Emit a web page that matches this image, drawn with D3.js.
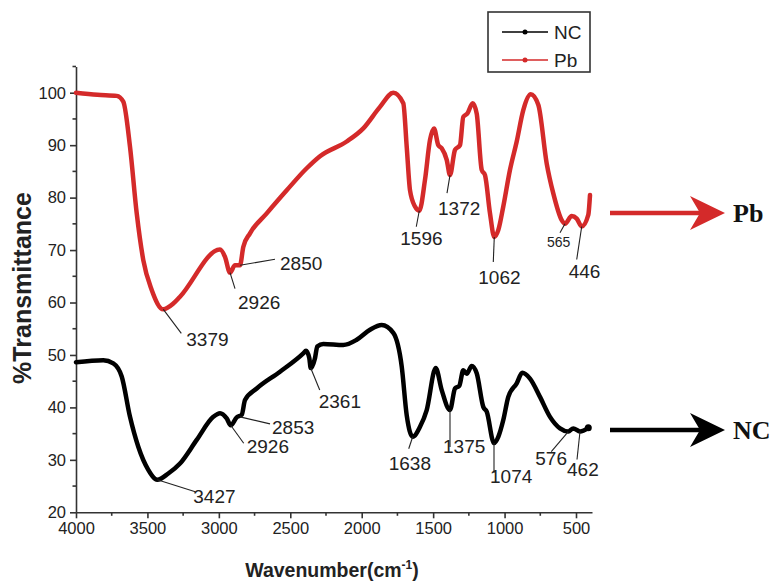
<!DOCTYPE html>
<html>
<head>
<meta charset="utf-8">
<script src="https://cdn.jsdelivr.net/npm/d3@7"></script>
<style>
  body { margin: 0; background: #fff; }
  svg { display: block; font-family: "Liberation Sans", Arial, sans-serif; }
</style>
</head>
<body>
<div id="chart"></div>
<script>
// FTIR spectra, wavenumber (cm-1) vs %T
var pbWave = [4000, 3850, 3715, 3669, 3622, 3575, 3529, 3470, 3389, 3319, 3272, 2992, 2957, 2922, 2887,
  2852, 2829, 2782, 2665, 2525, 2385, 2292, 2105, 1989, 1872, 1779, 1709, 1685, 1662, 1627, 1597,
  1557, 1522, 1494, 1464, 1440, 1405, 1382, 1347, 1312, 1289, 1261, 1223, 1195, 1160, 1137, 1102,
  1072, 1044, 1009, 962, 915, 869, 817, 764, 705, 659, 600, 577, 530, 495, 460, 414, 402];
var pbT = [100, 99.6, 99.4, 98.3, 89.7, 77, 68.1, 62.4, 58.7, 59.8, 61.1, 70.1, 68.7, 65.7, 67.1,
  67.1, 70.6, 73.2, 77, 81.4, 85.6, 87.9, 90.7, 93.2, 97.3, 100, 98, 89.7, 81.4, 78.3, 77.5,
  83.4, 91, 93.2, 90, 89.4, 87.2, 84.3, 89.1, 90, 95.4, 96, 98, 96, 85.3, 84.3, 77,
  72.5, 73.8, 78.3, 85.3, 90.7, 96.7, 99.7, 97.7, 86.5, 80.8, 75.7, 75, 76.5, 76, 74.5, 76.7, 80.5];

var ncWave = [4000, 3809, 3739, 3680, 3622, 3564, 3494, 3431, 3354, 3272, 3155, 3039, 2992, 2945, 2917,
  2875, 2840, 2817, 2735, 2572, 2409, 2390, 2367, 2357, 2327, 2311, 2269, 2129, 2035, 1942, 1860,
  1779, 1720, 1685, 1643, 1592, 1545, 1482, 1440, 1382, 1347, 1317, 1289, 1265, 1230, 1195, 1149,
  1125, 1074, 1044, 1009, 974, 915, 876, 822, 752, 682, 612, 554, 519, 472, 414];
var ncT = [48.6, 49, 48.4, 45.9, 38.2, 32.5, 28.1, 26.2, 27.4, 29.3, 33.8, 38.2, 38.9, 37.9, 36.6,
  38.1, 38.6, 41.4, 43.6, 46.8, 50.3, 50.8, 49.4, 47.5, 49.4, 51.6, 52.1, 51.9, 52.9, 54.8, 55.7,
  54.2, 47.8, 38.5, 34.4, 36.3, 39.5, 47.5, 43.3, 39.5, 43.6, 44.1, 47.1, 46.4, 47.9, 46.5, 40.1,
  39.2, 33.2, 34.4, 37.6, 42, 44.6, 46.6, 45.5, 42, 38.2, 36, 35.4, 36, 35.4, 36.1];

// peak labels: text, anchor wavenumber, anchor %T
var pbPeakText = ["3379", "2926", "2850", "1596", "1372", "1062", "565", "446"];
var pbPeakWave = [3389, 2922, 2852, 1597, 1382, 1072, 577, 460];
var pbPeakT = [58.7, 65.7, 67.1, 77.5, 84.3, 72.5, 75, 74.5];
var ncPeakText = ["3427", "2926", "2853", "2361", "1638", "1375", "1074", "576", "462"];
var ncPeakWave = [3431, 2917, 2852, 2357, 1643, 1382, 1074, 554, 472];
var ncPeakT = [26.2, 36.6, 38.2, 47.5, 34.4, 39.5, 33.2, 35.4, 35.4];

var xTicks = [4000, 3500, 3000, 2500, 2000, 1500, 1000, 500];
var yTicks = [20, 30, 40, 50, 60, 70, 80, 90, 100];

// label placement in px relative to the anchor: [leader dx, leader dy, text dx, text dy]
var pbLabelPos = [[18, 24, 23, 37], [5, 16, 8, 36], [35, -6, 40, 5], [-3, 16, -19, 34],
  [-3, 18, -12, 40], [-1, 25, -16, 47], [-5, 9, -18, 23], [-5, 33, -13, 52]];
var ncLabelPos = [[38, 12, 36, 23], [13, 18, 16, 28], [30, 7, 32, 17], [9, 22, 8, 40],
  [-4, 12, -24, 33], [0, 37, -7, 43], [0, 30, -4, 40], [-17, 20, -33, 33], [-3, 28, -13, 44]];

var width = 782, height = 582;
var x = d3.scaleLinear().domain([4000, 388]).range([76, 592]);
var y = d3.scaleLinear().domain([20, 105]).range([512.3, 66.5]);

var red = "#d42a2a";

var svg = d3.select("#chart").append("svg")
  .attr("width", width).attr("height", height);

// axes
var xAxis = d3.axisBottom(x).tickValues(xTicks).tickSize(6).tickSizeOuter(0).tickPadding(4)
  .tickFormat(d3.format("d"));
var yAxis = d3.axisLeft(y).tickValues(yTicks).tickSize(6).tickSizeOuter(0).tickPadding(4);

var gx = svg.append("g").attr("transform", "translate(0," + y(20) + ")").call(xAxis);
var gy = svg.append("g").attr("transform", "translate(" + x(4000) + ",0)").call(yAxis);
[gx, gy].forEach(function (g) {
  g.select(".domain").attr("stroke", "#333").attr("stroke-width", 1.6);
  g.selectAll(".tick line").attr("stroke", "#333").attr("stroke-width", 1.6);
  g.selectAll(".tick text").attr("font-size", 16.5).attr("fill", "#222")
    .attr("font-family", "Liberation Sans, Arial, sans-serif");
});

// minor ticks
var xMinor = d3.range(3750, 388, -500);
var yMinor = d3.range(25, 106, 10);
svg.append("g").selectAll("line").data(xMinor).enter().append("line")
  .attr("x1", function (d) { return x(d); }).attr("x2", function (d) { return x(d); })
  .attr("y1", y(20)).attr("y2", y(20) + 3.5)
  .attr("stroke", "#333").attr("stroke-width", 1.6);
svg.append("g").selectAll("line").data(yMinor).enter().append("line")
  .attr("y1", function (d) { return y(d); }).attr("y2", function (d) { return y(d); })
  .attr("x1", x(4000)).attr("x2", x(4000) - 3.5)
  .attr("stroke", "#333").attr("stroke-width", 1.6);

// axis titles
svg.append("text")
  .attr("transform", "translate(31," + 288 + ") rotate(-90)")
  .attr("text-anchor", "middle")
  .attr("font-size", 25).attr("font-weight", "bold").attr("fill", "#222")
  .text("%Transmittance");

var xt = svg.append("text")
  .attr("x", 332).attr("y", 577)
  .attr("text-anchor", "middle")
  .attr("font-size", 19.5).attr("font-weight", "bold").attr("fill", "#222");
xt.append("tspan").text("Wavenumber(cm");
xt.append("tspan").attr("font-size", 12).attr("dy", -8).text("-1");
xt.append("tspan").attr("dy", 8).text(")");

// spectra
var line = d3.line()
  .x(function (d) { return x(d[0]); })
  .y(function (d) { return y(d[1]); })
  .curve(d3.curveMonotoneX);

var pbData = d3.zip(pbWave, pbT);
var ncData = d3.zip(ncWave, ncT);

svg.append("path").datum(pbData).attr("d", line)
  .attr("fill", "none").attr("stroke", red).attr("stroke-width", 4.5)
  .attr("stroke-linejoin", "round").attr("stroke-linecap", "round");
svg.append("path").datum(ncData).attr("d", line)
  .attr("fill", "none").attr("stroke", "#000").attr("stroke-width", 4.5)
  .attr("stroke-linejoin", "round").attr("stroke-linecap", "round");
svg.append("circle")
  .attr("cx", x(ncWave[ncWave.length - 1])).attr("cy", y(ncT[ncT.length - 1]))
  .attr("r", 3.5).attr("fill", "#000");

// peak annotations
function annotate(texts, waves, ts, pos, sizes) {
  var g = svg.append("g");
  texts.forEach(function (t, i) {
    var ax = x(waves[i]), ay = y(ts[i]), p = pos[i];
    g.append("line")
      .attr("x1", ax).attr("y1", ay)
      .attr("x2", ax + p[0]).attr("y2", ay + p[1])
      .attr("stroke", "#222").attr("stroke-width", 1.1);
    g.append("text")
      .attr("x", ax + p[2]).attr("y", ay + p[3])
      .attr("font-size", sizes[i]).attr("fill", "#222")
      .text(t);
  });
}
annotate(pbPeakText, pbPeakWave, pbPeakT, pbLabelPos, [19, 19, 19, 19, 19, 19, 14, 19]);
annotate(ncPeakText, ncPeakWave, ncPeakT, ncLabelPos, [19, 19, 19, 19, 19, 19, 19, 19, 19]);

// legend
var legend = svg.append("g");
legend.append("rect")
  .attr("x", 488).attr("y", 12).attr("width", 102).attr("height", 60)
  .attr("fill", "#fff").attr("stroke", "#333").attr("stroke-width", 1.6);
var legendNames = ["NC", "Pb"];
var legendColors = ["#000", red];
legendNames.forEach(function (n, i) {
  var ly = 32 + i * 28;
  legend.append("line").attr("x1", 502).attr("x2", 548).attr("y1", ly).attr("y2", ly)
    .attr("stroke", legendColors[i]).attr("stroke-width", 1.3);
  legend.append("circle").attr("cx", 525).attr("cy", ly).attr("r", 2.5)
    .attr("fill", legendColors[i]);
  legend.append("text").attr("x", 554).attr("y", ly + 7)
    .attr("font-size", 19).attr("fill", "#222").text(n);
});

// side arrows
function arrow(yv, color, label) {
  var g = svg.append("g");
  g.append("line").attr("x1", 610).attr("x2", 705).attr("y1", yv).attr("y2", yv)
    .attr("stroke", color).attr("stroke-width", 4.5);
  g.append("path")
    .attr("d", "M725," + yv + " L690," + (yv - 17) + " L700," + yv + " L690," + (yv + 17) + " Z")
    .attr("fill", color);
  g.append("text").attr("x", 733).attr("y", yv + 9)
    .attr("font-family", "Liberation Serif, Times New Roman, serif")
    .attr("font-weight", "bold").attr("font-size", 26).attr("fill", "#111")
    .text(label);
}
arrow(213, red, "Pb");
arrow(430, "#000", "NC");
</script>
</body>
</html>
